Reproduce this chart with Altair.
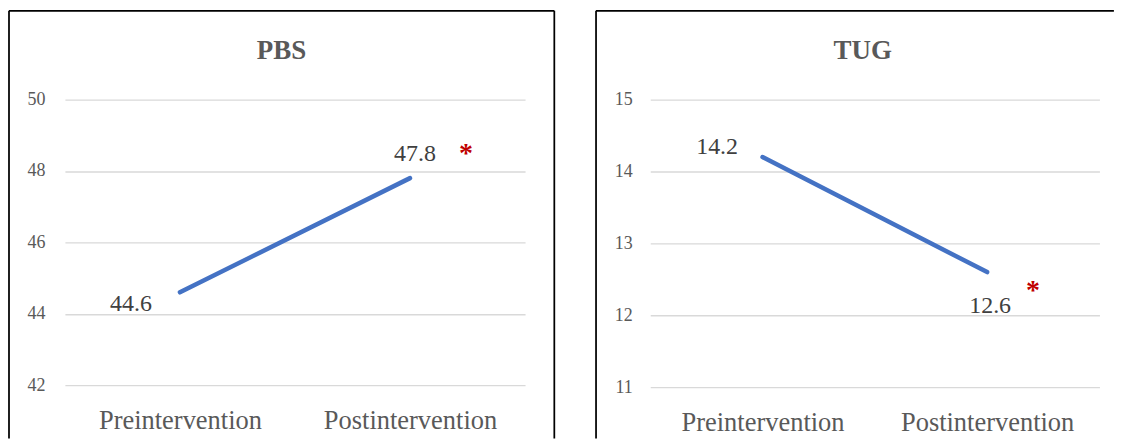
import altair as alt
import pandas as pd

# ---- data ----
phases = ["Preintervention", "Postintervention"]
pbs_values = [44.6, 47.8]
tug_values = [14.2, 12.6]
significance = ["", "*"]
pbs_ticks = [42, 44, 46, 48, 50]
tug_ticks = [11, 12, 13, 14, 15]
titles = ["PBS", "TUG"]

FONT = "Liberation Serif"
GRAY = "#595959"
DARK = "#404040"
BLUE = "#4472C4"
RED = "#C00000"
GRID = "#D9D9D9"
ONE = pd.DataFrame({"k": [0]})


def rule(x, y, x2=None, y2=None):
    enc = {"x": alt.value(x), "y": alt.value(y)}
    if x2 is not None:
        enc["x2"] = alt.value(x2)
    if y2 is not None:
        enc["y2"] = alt.value(y2)
    return alt.Chart(ONE).mark_rule(color="#000000", strokeWidth=1.75).encode(**enc)


def panel(title, values, ticks, width, height, lbl_pre, lbl_post, star, box, ypad, title_x):
    df = pd.DataFrame({"phase": phases, "value": values, "sig": significance})
    x = alt.X(
        "phase:N",
        sort=phases,
        scale=alt.Scale(type="point", padding=0.5),
        axis=alt.Axis(
            title=None, labelAngle=0, ticks=False, domain=False, grid=False,
            labelFont=FONT, labelFontSize=26.5, labelColor=GRAY, labelPadding=22,
        ),
    )
    y = alt.Y(
        "value:Q",
        scale=alt.Scale(domain=[ticks[0], ticks[-1]], nice=False, zero=False),
        axis=alt.Axis(
            title=None, values=ticks, ticks=False, domain=False, grid=True,
            gridColor=GRID, gridWidth=1.3, labelFont=FONT, labelFontSize=18,
            labelColor=GRAY, labelPadding=ypad,
        ),
    )
    base = alt.Chart(df).encode(x=x, y=y)
    line = base.mark_line(color=BLUE, strokeWidth=4.5, strokeCap="round")
    pre = base.transform_filter(alt.datum.phase == phases[0]).mark_text(
        font=FONT, fontSize=24, color=DARK, align="center", baseline="alphabetic",
        dx=lbl_pre[0], dy=lbl_pre[1],
    ).encode(text=alt.Text("value:Q", format=".1f"))
    post = base.transform_filter(alt.datum.phase == phases[1]).mark_text(
        font=FONT, fontSize=24, color=DARK, align="center", baseline="alphabetic",
        dx=lbl_post[0], dy=lbl_post[1],
    ).encode(text=alt.Text("value:Q", format=".1f"))
    sig = base.transform_filter(alt.datum.sig != "").mark_text(
        font=FONT, fontSize=28, fontWeight="bold", color=RED, align="center",
        baseline="alphabetic", dx=star[0], dy=star[1],
    ).encode(text="sig:N")
    left_x, right_x, top_y, bottom_y, draw_right = box
    frame = [rule(left_x, top_y, x2=right_x), rule(left_x, top_y, y2=bottom_y)]
    if draw_right:
        frame.append(rule(right_x, top_y, y2=bottom_y))
    head = alt.Chart(pd.DataFrame({"t": [title]})).mark_text(
        font=FONT, fontSize=27, fontWeight="bold", color=GRAY,
        align="center", baseline="alphabetic",
    ).encode(text="t:N", x=alt.value(title_x), y=alt.value(-40.5))
    return alt.layer(*frame, head, line, pre, post, sig).properties(
        width=width, height=height
    )


left = panel(titles[0], pbs_values, pbs_ticks, 461, 286,
             (-49, 18.4), (5, -17), (56, -16),
             (-56, 490.3, -89, 339.5, True), 20, 217)
right = panel(titles[1], tug_values, tug_ticks, 450, 288,
              (-45.5, -3), (3, 41), (46, 27),
              (-54.3, 464.5, -89, 339.5, False), 18, 212.8)

chart = alt.hconcat(left, right, spacing=38.4).properties(
    padding={"left": 0, "top": 1.4, "right": 0, "bottom": 0}
).configure_view(stroke=None)

chart.save("out.html", embed_options={"renderer": "svg", "actions": False})
